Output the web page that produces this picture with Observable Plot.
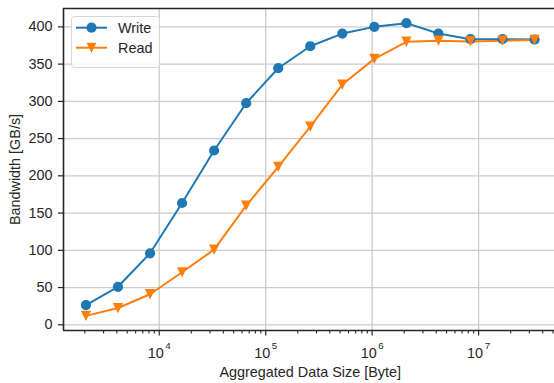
<!DOCTYPE html>
<html><head><meta charset="utf-8">
<script src="https://cdn.jsdelivr.net/npm/d3@7"></script>
<script src="https://cdn.jsdelivr.net/npm/@observablehq/plot@0.6"></script>
<style>
body{margin:0;background:#fff;}
#wrap{position:relative;width:554px;height:383px;font-family:"Liberation Sans",Arial,sans-serif;}
#legend{position:absolute;left:71px;top:16px;}
</style></head><body><div id="wrap"></div>
<script>
// data (bytes, GB/s)
const sizes = [2048, 4096, 8192, 16384, 32768, 65536, 131072, 262144, 524288, 1048576, 2097152, 4194304, 8388608, 16777216, 33554432];
const writeBW = [26.5, 51, 96, 163.5, 234, 297.5, 344.5, 374, 391, 400, 405, 391, 383.5, 383.5, 383];
const readBW = [12, 22.5, 41, 70.5, 101, 160, 212, 266, 322.5, 357, 380, 381.5, 380.5, 381.5, 382.5];
const seriesNames = ["Write", "Read"];
const seriesColors = ["#1f77b4", "#ff7f0e"];
const xMajorTicks = [1e4, 1e5, 1e6, 1e7];
const yTicks = [0, 50, 100, 150, 200, 250, 300, 350, 400];
const xLabel = "Aggregated Data Size [Byte]";
const yLabel = "Bandwidth [GB/s]";

const rows = [];
sizes.forEach((s, i) => {
  rows.push({size: s, bw: writeBW[i], series: "Write"});
  rows.push({size: s, bw: readBW[i], series: "Read"});
});

// matplotlib-like 5% margins
const [lx0, lx1] = d3.extent(sizes).map(Math.log10);
const px = 0.05 * (lx1 - lx0);
const xDomain = [10 ** (lx0 - px), 10 ** (lx1 + px)];
const [y0, y1] = d3.extent(writeBW.concat(readBW));
const py = 0.05 * (y1 - y0);
const yDomain = [y0 - py, y1 + py];

const xMinorTicks = [];
for (let e = 3; e <= 7; e++) for (let k = 2; k <= 9; k++) {
  const v = k * 10 ** e;
  if (v > xDomain[0] && v < xDomain[1]) xMinorTicks.push(v);
}

const triDown = {draw(ctx, size) {
  const h = Math.sqrt(size / 2);
  ctx.moveTo(-h, -h); ctx.lineTo(h, -h); ctx.lineTo(0, h); ctx.closePath();
}};

const ink = "#262626";
const fs = "14.4px";
const chart = Plot.plot({
  width: 554, height: 383,
  marginLeft: 63, marginRight: -2.5, marginTop: 8, marginBottom: 53,
  style: {fontFamily: "Liberation Sans, Arial, sans-serif", fontSize: fs, color: ink, background: "white", overflow: "visible"},
  x: {type: "log", domain: xDomain},
  y: {domain: yDomain},
  color: {domain: seriesNames, range: seriesColors},
  marks: [
    Plot.gridX(xMajorTicks, {stroke: "#cccccc", strokeOpacity: 1, strokeWidth: 1.3}),
    Plot.gridY(yTicks, {stroke: "#cccccc", strokeOpacity: 1, strokeWidth: 1.3}),
    Plot.axisX(xMinorTicks, {tickSize: 3.5, tickFormat: () => "", stroke: ink, strokeWidth: 1.1, label: null}),
    Plot.axisX(xMajorTicks, {tickSize: 5.5, tickPadding: 11.5, stroke: ink, strokeWidth: 1.2,
      tickFormat: d => "10^" + Math.round(Math.log10(d)),
      label: xLabel, labelAnchor: "center", labelOffset: 46, labelArrow: "none"}),
    Plot.axisY(yTicks, {tickSize: 5, tickPadding: 6, stroke: ink, strokeWidth: 1.2,
      label: yLabel, labelAnchor: "center", labelOffset: 54, labelArrow: "none"}),
    Plot.line(rows, {x: "size", y: "bw", z: "series", stroke: "series", strokeWidth: 2}),
    Plot.dot(rows.filter(d => d.series === "Write"), {x: "size", y: "bw", r: 5.1, fill: "series", stroke: "none"}),
    Plot.dot(rows.filter(d => d.series === "Read"), {x: "size", y: "bw", r: 4.1, symbol: triDown, fill: "series", stroke: "none"}),
    Plot.ruleX([xDomain[0]], {stroke: ink, strokeWidth: 1.6}),
    Plot.ruleY([yDomain[0]], {stroke: ink, strokeWidth: 1.6}),
    Plot.ruleY([yDomain[1]], {stroke: ink, strokeWidth: 1.6})
  ]
});
const wrap = document.getElementById("wrap");
wrap.appendChild(chart);

// superscript tick labels
chart.querySelectorAll('g[aria-label="x-axis tick label"] text').forEach(t => {
  const s = t.textContent;
  if (!s.includes("^")) return;
  const [b, e] = s.split("^");
  t.textContent = "";
  const ns = "http://www.w3.org/2000/svg";
  const a = document.createElementNS(ns, "tspan"); a.textContent = b; t.appendChild(a);
  const sup = document.createElementNS(ns, "tspan");
  sup.textContent = e; sup.setAttribute("dy", "-8.7"); sup.setAttribute("dx", "1.5"); sup.setAttribute("font-size", "9.8");
  t.appendChild(sup);
});

// legend
const lg = d3.select(wrap).append("svg").attr("id", "legend").attr("width", 90).attr("height", 54);
lg.append("rect").attr("x", 0.5).attr("y", 0.5).attr("width", 88).attr("height", 51).attr("rx", 3)
  .attr("fill", "white").attr("fill-opacity", 0.8).attr("stroke", "#d6d6d6");
seriesNames.forEach((n, i) => {
  const cy = 11.7 + i * 20;
  const g = lg.append("g");
  g.append("line").attr("x1", 5).attr("x2", 36).attr("y1", cy).attr("y2", cy).attr("stroke", seriesColors[i]).attr("stroke-width", 2);
  if (i === 0) g.append("circle").attr("cx", 20.5).attr("cy", cy).attr("r", 5.1).attr("fill", seriesColors[i]);
  else g.append("path").attr("d", `M${15.5},${cy - 5}L${25.5},${cy - 5}L20.5,${cy + 5}Z`).attr("fill", seriesColors[i]);
  g.append("text").attr("x", 47).attr("y", cy + 5).attr("font-size", fs).attr("fill", ink)
    .attr("font-family", "Liberation Sans, Arial, sans-serif").text(n);
});
</script></body></html>
